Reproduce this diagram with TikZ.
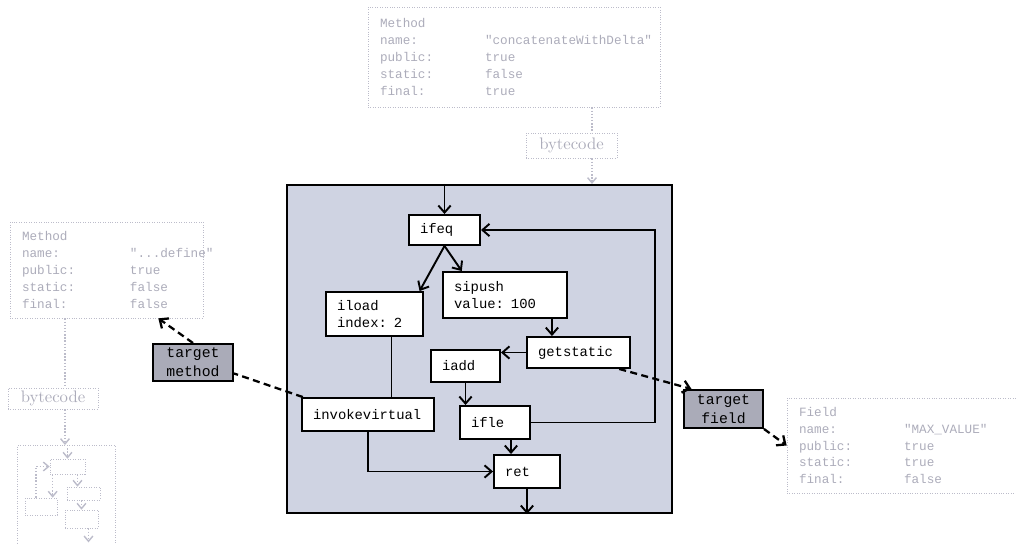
\documentclass[tikz,border=0pt]{standalone}
\usepackage{fontspec}
\setmonofont{Liberation Mono}
\usepackage{xcolor}
\usepackage{tikz}
\usetikzlibrary{arrows.meta}

\definecolor{fondo}{RGB}{207,211,226}
\definecolor{gris}{RGB}{170,171,184}
\definecolor{tenue}{RGB}{172,172,186}
\definecolor{bordetenue}{RGB}{188,188,202}

\newcommand{\fila}[3][2.1cm]{\makebox[#1][l]{#2}#3\\}

\tikzset{
	op/.style={draw, line width=1.1pt, fill=white, font=\ttfamily\fontsize{7.9}{10}\selectfont,
		align=left, inner xsep=0.22cm, inner ysep=0pt},
	objetivo/.style={draw, line width=1.1pt, fill=gris, font=\ttfamily\fontsize{8.4}{11}\selectfont,
		align=center, inner sep=0pt},
	ficha/.style={draw=bordetenue, densely dotted, text=tenue, font=\ttfamily\fontsize{7.2}{9.6}\selectfont,
		align=left, inner xsep=0.24cm, inner ysep=0pt},
	etiqueta/.style={draw=bordetenue, densely dotted, text=tenue, font=\rmfamily\fontsize{9.5}{11}\selectfont,
		inner sep=0pt},
	mini/.style={draw=bordetenue, densely dotted, inner sep=0pt},
	flow/.style={-{Straight Barb[length=4pt, width=7pt]}, line width=1.1pt},
	trazo/.style={dash pattern=on 4pt off 2.5pt, line width=1.3pt},
	link/.style={trazo, -{Straight Barb[length=4pt, width=7pt]}},
	pale/.style={-{Straight Barb[length=3pt, width=5pt]}, densely dotted, draw=bordetenue, line width=0.8pt}
}

\begin{document}
\begin{tikzpicture}[x=0.02cm, y=-0.02cm]
	\useasboundingbox (0,0) rectangle (1016,544);

	% metodo de arriba
	\node[ficha, text width=5.36cm, minimum height=2.0cm] (mtop) at (514,57) {%
		\fila{Method}{}
		\fila{name:}{"concatenateWithDelta"}
		\fila{public:}{true}
		\fila{static:}{false}
		\fila{final:}{true}};
	\node[etiqueta, minimum width=1.82cm, minimum height=0.5cm] (bc1) at (571.5,145.5) {bytecode};
	\coordinate (bcx) at (592,0);

	% cuerpo del metodo
	\node[draw, line width=1.2pt, fill=fondo, minimum width=7.7cm, minimum height=6.56cm, inner sep=0pt] (body) at (479.5,349) {};

	\draw[densely dotted, draw=bordetenue, line width=0.8pt] (mtop.south -| bcx) -- (bc1.north -| bcx);
	\draw[pale] (bc1.south -| bcx) -- (body.north -| bcx);

	% instrucciones
	\node[op, text width=0.98cm, minimum height=0.60cm] (ifeq) at (444.5,230) {ifeq};
	\node[op, text width=2.04cm, minimum height=0.92cm] (sipush) at (505,295) {sipush\\value: 100};
	\node[op, text width=1.50cm, minimum height=0.88cm] (iload) at (374.5,314) {iload\\index: 2};
	\node[op, text width=1.62cm, minimum height=0.62cm] (getstatic) at (578.5,352.5) {getstatic};
	\node[op, text width=0.94cm, minimum height=0.64cm] (iadd) at (465.5,366) {iadd};
	\node[op, text width=2.20cm, minimum height=0.66cm] (invoke) at (368,414.5) {invokevirtual};
	\node[op, text width=0.96cm, minimum height=0.66cm] (ifle) at (495,422.5) {ifle};
	\node[op, text width=0.88cm, minimum height=0.66cm] (ret) at (527,471.5) {ret};

	% flujo de control
	\coordinate (vuelta) at (655,0);
	\draw[flow] (ifeq.north |- body.north) -- (ifeq.north);
	\draw[flow] (ifeq.south) -- (iload.27);
	\draw[flow] (ifeq.south) -- (sipush.151);
	\draw[flow] ([xshift=-0.32cm]sipush.south east) -- ([xshift=-0.32cm]sipush.south east |- getstatic.north);
	\draw[flow] (getstatic.west) -- (getstatic.west -| iadd.east);
	\draw[flow] (iadd.south) -- (iadd.south |- ifle.north);
	\draw[line width=1.1pt] ([xshift=0.34cm]iload.south) -- ([xshift=0.34cm]iload.south |- invoke.north);
	\draw[flow] (invoke.south) |- (ret.west);
	\draw[flow] ([xshift=0.32cm]ifle.south) -- ([xshift=0.32cm]ifle.south |- ret.north);
	\draw[flow] (ifle.east) -- (ifle.east -| vuelta) -- (ifeq.east -| vuelta) -- (ifeq.east);
	\draw[flow] (ret.south) -- (ret.south |- body.south);

	% destinos
	\node[objetivo, minimum width=1.60cm, minimum height=0.74cm] (tmethod) at (193,362.5) {target\\method};
	\node[objetivo, minimum width=1.58cm, minimum height=0.76cm] (tfield) at (723.5,409) {target\\field};

	% metodo de la izquierda
	\node[ficha, text width=3.38cm, minimum height=1.92cm] (lmethod) at (106.5,270) {%
		\fila[2.16cm]{Method}{}
		\fila[2.16cm]{name:}{"...define"}
		\fila[2.16cm]{public:}{true}
		\fila[2.16cm]{static:}{false}
		\fila[2.16cm]{final:}{false}};

	% campo
	\node[ficha, text width=4.18cm, minimum height=1.90cm] (field) at (903.5,445.5) {%
		\fila{Field}{}
		\fila{name:}{"MAX\_VALUE"}
		\fila{public:}{true}
		\fila{static:}{true}
		\fila{final:}{false}};

	\draw[trazo] (invoke.165) -- (tmethod.-15);
	\draw[link] (tmethod.north) -- (lmethod.-43);
	\draw[link] (getstatic.-22) -- (tfield.148);
	\draw[link] (tfield.south east) -- (field.west);

	% bytecode del metodo de la izquierda
	\coordinate (bcl) at (65,0);
	\node[etiqueta, minimum width=1.80cm, minimum height=0.42cm] (bc2) at (53,398.5) {bytecode};
	\node[mini, minimum width=1.96cm, minimum height=2.4cm, anchor=north west] (caja) at (17,445) {};
	\draw[densely dotted, draw=bordetenue, line width=0.8pt] (lmethod.south -| bcl) -- (bc2.north -| bcl);
	\draw[pale] (bc2.south -| bcl) -- (caja.north -| bcl);

	\node[mini, minimum width=0.70cm, minimum height=0.30cm] (m1) at (67.5,466.5) {};
	\node[mini, minimum width=0.66cm, minimum height=0.26cm] (m2) at (83.5,493.5) {};
	\node[mini, minimum width=0.64cm, minimum height=0.34cm] (m3) at (41,506.5) {};
	\node[mini, minimum width=0.66cm, minimum height=0.36cm] (m4) at (81.5,519) {};
	\draw[pale] (caja.north -| m1.north) -- (m1.north);
	\draw[pale] ([xshift=0.2cm]m1.south) -- ([xshift=0.2cm]m1.south |- m2.north);
	\draw[pale] ([xshift=0.06cm]m1.south west) -- ([xshift=0.06cm]m1.south west |- m3.north);
	\draw[pale] ([xshift=-0.1cm]m3.north) |- (m1.west);
	\draw[pale] (m2.south -| m4.north) -- (m4.north);
	\draw[pale] ([xshift=0.14cm]m4.south) -- ++(0,14);
\end{tikzpicture}
\end{document}
